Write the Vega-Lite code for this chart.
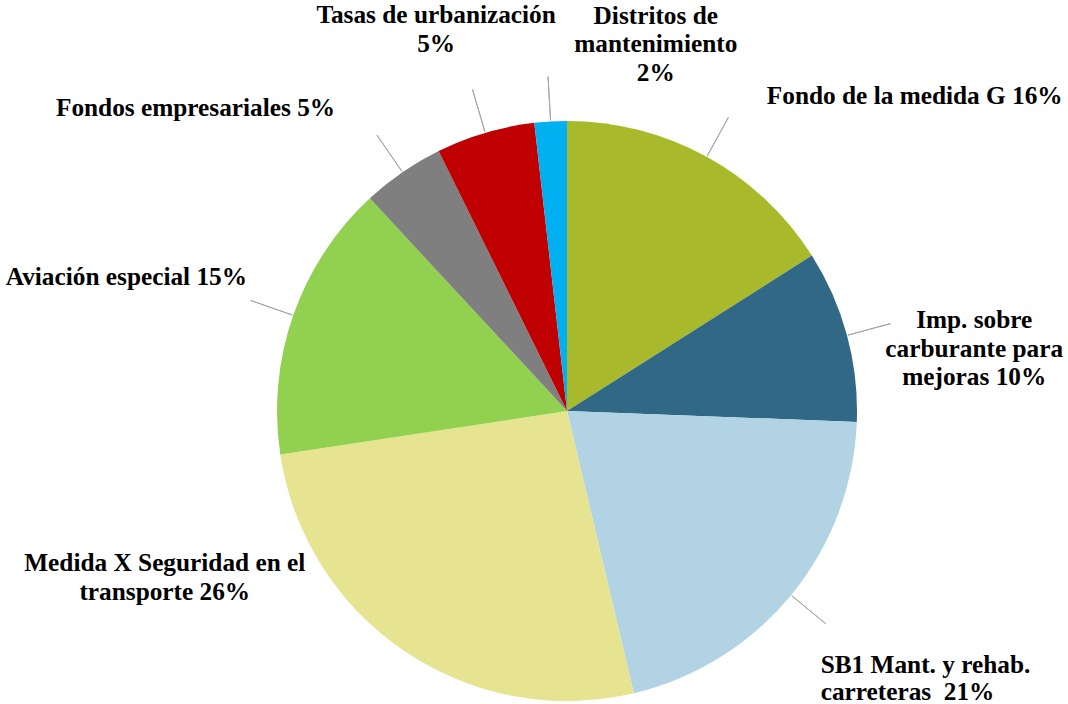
{
  "$schema": "https://vega.github.io/schema/vega-lite/v6.json",
  "autosize": "none",
  "width": 580,
  "height": 580,
  "padding": {"left": 277, "top": 121, "right": 211, "bottom": 3},
  "background": "white",
  "view": {"stroke": null},
  "config": {"text": {"font": "Liberation Serif, Times New Roman, DejaVu Serif, serif"}},
  "data": {
    "values": [
      {"i": 1, "cat": "Fondo de la medida G", "v": 16.0, "label": "Fondo de la medida G 16%"},
      {"i": 2, "cat": "Imp. sobre carburante para mejoras", "v": 9.6, "label": "Imp. sobre\ncarburante para\nmejoras 10%"},
      {"i": 3, "cat": "SB1 Mant. y rehab. carreteras", "v": 20.7, "label": "SB1 Mant. y rehab.\ncarreteras \u00a021%"},
      {"i": 4, "cat": "Medida X Seguridad en el transporte", "v": 26.3, "label": "Medida X Seguridad en el\ntransporte 26%"},
      {"i": 5, "cat": "Aviación especial", "v": 15.5, "label": "Aviación especial 15%"},
      {"i": 6, "cat": "Fondos empresariales", "v": 4.6, "label": "Fondos empresariales 5%"},
      {"i": 7, "cat": "Tasas de urbanización", "v": 5.5, "label": "Tasas de urbanización\n5%"},
      {"i": 8, "cat": "Distritos de mantenimiento", "v": 1.8, "label": "Distritos de\nmantenimiento\n2%"}
    ]
  },
  "encoding": {
    "theta": {"field": "v", "type": "quantitative", "stack": true},
    "order": {"field": "i", "type": "quantitative"},
    "detail": {"field": "cat", "type": "nominal"}
  },
  "layer": [
    {
      "mark": {"type": "arc", "radius": 290, "stroke": null},
      "encoding": {
        "color": {
          "field": "cat", "type": "nominal", "legend": null,
          "scale": {
            "domain": ["Fondo de la medida G", "Imp. sobre carburante para mejoras", "SB1 Mant. y rehab. carreteras", "Medida X Seguridad en el transporte", "Aviación especial", "Fondos empresariales", "Tasas de urbanización", "Distritos de mantenimiento"],
            "range": ["#A9B92C", "#316885", "#B1D3E3", "#E6E391", "#92D050", "#7F7F7F", "#C00000", "#00B0F0"]
          }
        }
      }
    },
    {
      "mark": {"type": "arc", "radius": 335, "radius2": 291, "padAngle": 3, "fillOpacity": 0, "stroke": "#A6A6A6", "strokeWidth": 1},
      "encoding": {
        "strokeOpacity": {"condition": {"test": "datum.i === 4", "value": 0}, "value": 1}
      }
    },
    {
      "mark": {"type": "text", "radius": 340, "align": "left", "baseline": "alphabetic", "dx": 36, "dy": -9, "font": "Liberation Serif, Times New Roman, DejaVu Serif, serif", "fontWeight": "bold", "fontSize": 25.3, "lineBreak": "\n", "lineHeight": 28.5, "color": "black"},
      "encoding": {"text": {"condition": {"test": "datum.i === 1", "field": "label"}, "value": ""}}
    },
    {
      "mark": {"type": "text", "radius": 340, "align": "center", "baseline": "alphabetic", "dx": 79, "dy": 6, "font": "Liberation Serif, Times New Roman, DejaVu Serif, serif", "fontWeight": "bold", "fontSize": 25.3, "lineBreak": "\n", "lineHeight": 28.5, "color": "black"},
      "encoding": {"text": {"condition": {"test": "datum.i === 2", "field": "label"}, "value": ""}}
    },
    {
      "mark": {"type": "text", "radius": 340, "align": "left", "baseline": "alphabetic", "dx": -9, "dy": 46, "font": "Liberation Serif, Times New Roman, DejaVu Serif, serif", "fontWeight": "bold", "fontSize": 25.3, "lineBreak": "\n", "lineHeight": 27.5, "color": "black"},
      "encoding": {"text": {"condition": {"test": "datum.i === 3", "field": "label"}, "value": ""}}
    },
    {
      "mark": {"type": "text", "radius": 340, "align": "center", "baseline": "alphabetic", "dx": -212, "dy": -122, "font": "Liberation Serif, Times New Roman, DejaVu Serif, serif", "fontWeight": "bold", "fontSize": 25.3, "lineBreak": "\n", "lineHeight": 29.5, "color": "black"},
      "encoding": {"text": {"condition": {"test": "datum.i === 4", "field": "label"}, "value": ""}}
    },
    {
      "mark": {"type": "text", "radius": 340, "align": "right", "baseline": "alphabetic", "dx": 1, "dy": -14, "font": "Liberation Serif, Times New Roman, DejaVu Serif, serif", "fontWeight": "bold", "fontSize": 25.3, "lineBreak": "\n", "lineHeight": 28.5, "color": "black"},
      "encoding": {"text": {"condition": {"test": "datum.i === 5", "field": "label"}, "value": ""}}
    },
    {
      "mark": {"type": "text", "radius": 340, "align": "right", "baseline": "alphabetic", "dx": -39, "dy": -15, "font": "Liberation Serif, Times New Roman, DejaVu Serif, serif", "fontWeight": "bold", "fontSize": 25.3, "lineBreak": "\n", "lineHeight": 28.5, "color": "black"},
      "encoding": {"text": {"condition": {"test": "datum.i === 6", "field": "label"}, "value": ""}}
    },
    {
      "mark": {"type": "text", "radius": 340, "align": "center", "baseline": "alphabetic", "dx": -35, "dy": -62, "font": "Liberation Serif, Times New Roman, DejaVu Serif, serif", "fontWeight": "bold", "fontSize": 25.3, "lineBreak": "\n", "lineHeight": 29, "color": "black"},
      "encoding": {"text": {"condition": {"test": "datum.i === 7", "field": "label"}, "value": ""}}
    },
    {
      "mark": {"type": "text", "radius": 340, "align": "center", "baseline": "alphabetic", "dx": 108, "dy": -48, "font": "Liberation Serif, Times New Roman, DejaVu Serif, serif", "fontWeight": "bold", "fontSize": 25.3, "lineBreak": "\n", "lineHeight": 28.5, "color": "black"},
      "encoding": {"text": {"condition": {"test": "datum.i === 8", "field": "label"}, "value": ""}}
    }
  ]
}
